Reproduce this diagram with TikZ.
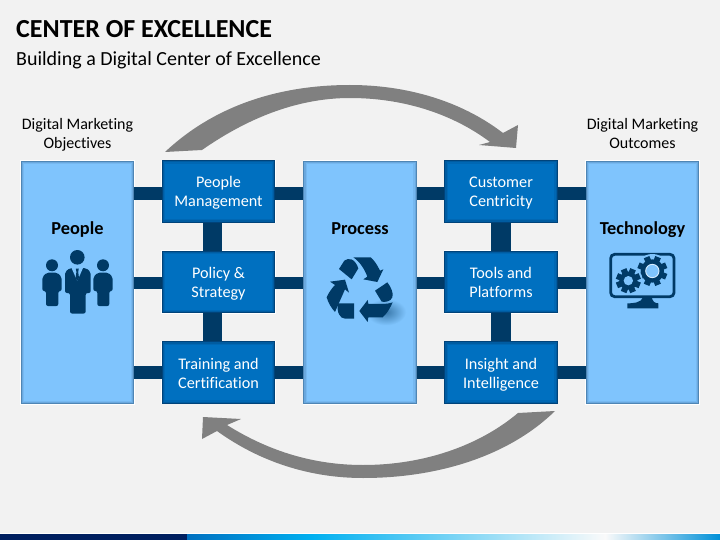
\documentclass[tikz,border=0pt]{standalone}
\usepackage{fontspec}
\setmainfont[Ligatures=NoCommon]{Carlito}
\definecolor{bgcol}{HTML}{F2F2F2}
\definecolor{bigfill}{HTML}{7FC4FD}
\definecolor{bigedge}{HTML}{4F86B5}
\definecolor{boxfill}{HTML}{0070C0}
\definecolor{boxedge}{HTML}{00437A}
\definecolor{navy}{HTML}{003A66}
\definecolor{sweep}{HTML}{808080}
\definecolor{stripdark}{HTML}{002060}
\definecolor{stripcyan}{HTML}{00B0F0}
\definecolor{stripwhite}{HTML}{FAFAFA}
\definecolor{stripend}{HTML}{0090D8}
\newcommand*{\gearicon}[5]{% centre x, y, body radius, tooth radius, hole radius
  \fill[bigfill] (#1,#2) circle ({#4+6});
  \foreach \a in {0,45,...,315}
    \fill[navy,shift={(#1,#2)},rotate=\a+22.5] (-9,0) rectangle (9,#4);
  \fill[navy] (#1,#2) circle (#3);
  \fill[bigfill] (#1,#2) circle (#5);
}
\tikzset{
  innerglow/.style={path picture={
    \draw[#1,line width=6pt,opacity=.18] (path picture bounding box.south west) rectangle (path picture bounding box.north east);
    \draw[#1,line width=3.5pt,opacity=.3] (path picture bounding box.south west) rectangle (path picture bounding box.north east);
  }},
  bigbox/.style={draw=bigedge,line width=.8pt,fill=bigfill,minimum width=112.5pt,minimum height=242.5pt,inner sep=0pt,
    preaction={draw=white,line width=2pt},innerglow=bigedge},
  smallbox/.style={draw=boxedge,line width=.8pt,fill=boxfill,minimum width=112.5pt,minimum height=61.5pt,inner sep=0pt,
    preaction={draw=white,line width=2pt},innerglow=boxedge,
    text=white,align=center,text height=31pt,text depth=0pt,font=\fontsize{16.2}{19}\selectfont},
  biglabel/.style={font=\fontsize{18.3}{21}\selectfont\bfseries,inner sep=0pt,anchor=base},
  sidelabel/.style={align=center,font=\fontsize{16}{19}\selectfont,inner sep=0pt},
  barline/.style={navy,line width=12.5pt},
  postline/.style={navy,line width=19.5pt},
  sweeparrow/.style={fill=sweep}
}
\begin{document}
\begin{tikzpicture}[x=1pt,y=-1pt]
\useasboundingbox (0,0) rectangle (720,540);
\fill[bgcol] (0,0) rectangle (720,540);
% title
\node[anchor=west,inner sep=0pt,font=\fontsize{26}{30}\selectfont\bfseries] (title) at (16,29.5) {CENTER OF EXCELLENCE};
\node[anchor=west,inner sep=0pt,font=\fontsize{20}{24}\selectfont] (subtitle) at (16,60.5) {Building a Digital Center of Excellence};
\node[sidelabel] (objectives) at (77.5,134.8) {Digital Marketing\\Objectives};
\node[sidelabel] (outcomes) at (642.5,134) {Digital Marketing\\Outcomes};
% columns
\node[bigbox] (people) at (77.5,282.5) {};
\node[bigbox] (process) at (360,282.5) {};
\node[bigbox] (tech) at (642.5,282.5) {};
\node[smallbox] (mgmt) at (218.5,191.5) {People\\Management};
\node[smallbox] (policy) at (218.5,282) {Policy \&\\Strategy};
\node[smallbox] (train) at (218.5,372.5) {Training and\\Certification};
\node[smallbox] (cust) at (501,191.5) {Customer\\Centricity};
\node[smallbox] (tools) at (501,282) {Tools and\\Platforms};
\node[smallbox] (insight) at (501,372.5) {Insight and\\Intelligence};
\node[biglabel] (peoplelabel) at (77.5,234) {People};
\node[biglabel] (processlabel) at (360,234) {Process};
\node[biglabel] (techlabel) at (642.5,234) {Technology};
% bars
\foreach \l/\r/\s in {people/mgmt/2,process/cust/2,people/policy/1,process/tools/1,people/train/0,process/insight/0}
  \draw[barline] ([yshift=-\s pt]\l.east |- \r.west) -- ([yshift=-\s pt]\r.west);
\foreach \l/\r/\s in {mgmt/process/2,cust/tech/2,policy/process/1,tools/tech/1,train/process/0,insight/tech/0}
  \draw[barline] ([yshift=-\s pt]\l.east) -- ([yshift=-\s pt]\l.east -| \r.west);
\foreach \a/\b/\s in {mgmt/policy/-6,policy/train/-6,cust/tools/0,tools/insight/0}
  \draw[postline] ([xshift=\s pt]\a.south) -- ([xshift=\s pt]\b.north);
% sweep arrows
\fill[sweeparrow] (165,152) .. controls (215,105) and (280,85) .. (350,85)
  .. controls (405,85) and (460,100) .. (503,133) -- (518,125) -- (516,148) -- (479,145) -- (490,142)
  .. controls (450,112) and (400,98) .. (350,98) .. controls (295,98) and (245,120) .. (202,150) -- cycle;
\fill[sweeparrow] (555,411) .. controls (510,455) and (440,478) .. (363,478)
  .. controls (310,478) and (260,462) .. (217,431) -- (202,439) -- (203,417) -- (241,419) -- (227,425)
  .. controls (270,452) and (315,465) .. (363,465) .. controls (425,465) and (480,445) .. (518,413) -- cycle;
% people icon
\fill[navy] (77.3,257.3) circle (7.3) (52,265.3) circle (6) (103,265.3) circle (6);
\fill[navy,rounded corners=2pt] (65,293) -- (65,272) -- (70,268) -- (86,268) -- (90.7,272) -- (90.7,293) -- (85.7,293) -- (85.7,313.5) -- (70,313.5) -- (70,293) -- cycle;
\fill[navy,rounded corners=2pt] (42.3,291) -- (42.3,277) -- (47,272.5) -- (57,272.5) -- (61.7,277) -- (61.7,291) -- (58.3,291) -- (58.3,306) -- (46,306) -- (46,291) -- cycle;
\fill[navy,rounded corners=2pt] (93.3,291) -- (93.3,277) -- (98,272.5) -- (108,272.5) -- (112.7,277) -- (112.7,291) -- (109.3,291) -- (109.3,306) -- (97.3,306) -- (97.3,291) -- cycle;
\fill[bigfill] (71.5,268) -- (77.3,281) -- (83,268) -- cycle;
\fill[navy] (75.8,268.5) -- (78.8,268.5) -- (78.2,272) -- (79,278) -- (77.3,281) -- (75.6,278) -- (76.4,272) -- cycle;
% process icon
\shade[inner color=navy!55!bigfill,outer color=bigfill,shift={(300,240)},scale=1/3] (258,216) ellipse (60 and 40);
\begin{scope}[shift={(300,240)},scale=1/3]
  \fill[navy] (160,52) -- (212,52) .. controls (222,60) and (232,75) .. (240,92) -- (250,88) -- (232,126) -- (190,118) -- (202,110) .. controls (195,90) and (180,65) .. (160,52) -- cycle;
  \fill[navy] (117,87) -- (133,62) .. controls (145,52) and (165,55) .. (175,85) -- (155,118) -- cycle;
  \fill[navy] (80,172) .. controls (85,160) and (95,145) .. (105,135) -- (90,125) -- (135,119) -- (147,158) -- (135,148) -- (105,216) .. controls (95,205) and (85,190) .. (80,172) -- cycle;
  \fill[navy] (115,190) -- (162,190) -- (162,236) -- (135,236) .. controls (120,236) and (108,215) .. (115,190) -- cycle;
  \fill[navy] (278,187) .. controls (270,205) and (260,222) .. (248,232) -- (205,232) -- (203,246) -- (178,213) -- (203,180) -- (205,192) -- (245,192) .. controls (258,192) and (270,190) .. (278,187) -- cycle;
  \fill[navy] (225,152) -- (262,127) .. controls (272,140) and (282,160) .. (277,172) .. controls (272,185) and (255,187) .. (245,185) -- cycle;
\end{scope}
% technology icon
\begin{scope}[shift={(590,240)},scale=1/3]
  \draw[navy,line width=2.8pt,rounded corners=4pt] (62,170) rectangle (252,43);
  \fill[navy] (160,170) -- (185,170) .. controls (187,185) and (195,190) .. (205,190) -- (205,205) -- (112,205) -- (112,190) .. controls (125,190) and (155,190) .. (160,170) -- cycle;
  \gearicon{187}{93}{35}{45}{20}
  \draw[white!70!bigfill,line width=0.9pt] (187,93) circle (20);
  \gearicon{115}{122}{27}{37}{14}
\end{scope}
% bottom strip
\fill[white] (0,532.5) rectangle (720,534);
\fill[stripdark] (0,534) rectangle (187,540);
\shade[left color=boxfill,right color=stripcyan] (187,534) rectangle (312,540);
\shade[left color=stripcyan,right color=stripwhite] (312,534) rectangle (605,540);
\shade[left color=stripwhite,right color=stripend] (605,534) rectangle (720,540);
\end{tikzpicture}
\end{document}
